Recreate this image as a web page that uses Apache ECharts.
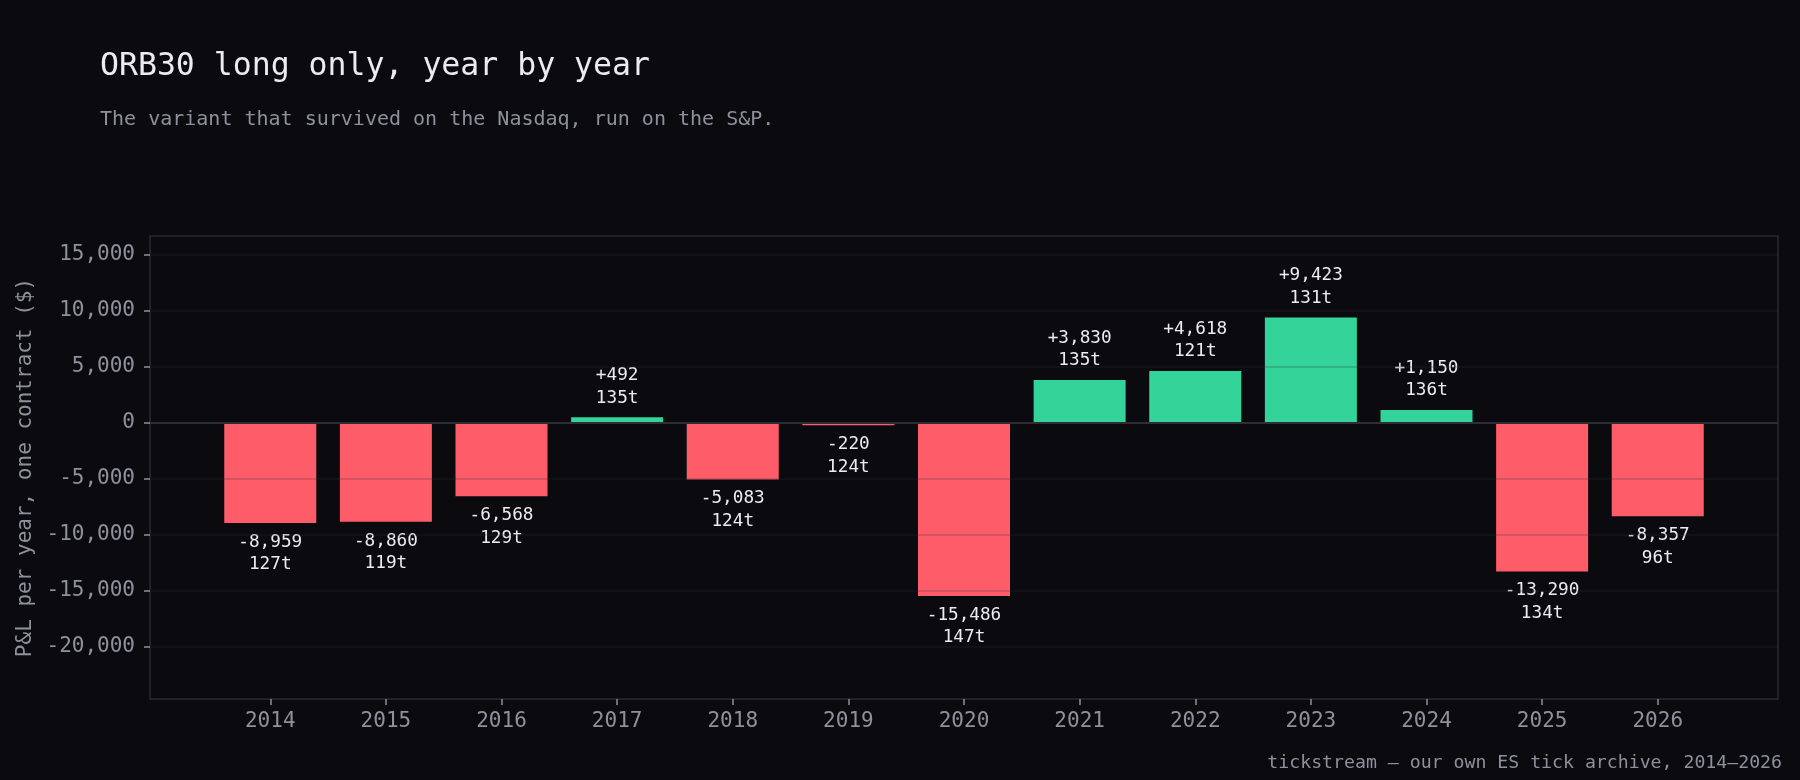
<!DOCTYPE html>
<html>
<head>
<meta charset="utf-8">
<script src="https://cdn.jsdelivr.net/npm/echarts@6/dist/echarts.min.js"></script>
<style>
  html, body { margin: 0; padding: 0; background: #0b0b0f; }
  #chart { width: 1800px; height: 780px; }
</style>
</head>
<body>
<div id="chart"></div>
<script>
// 数据
var years = ['2014','2015','2016','2017','2018','2019','2020','2021','2022','2023','2024','2025','2026'];
var pnl = [-8959, -8860, -6568, 492, -5083, -220, -15486, 3830, 4618, 9423, 1150, -13290, -8357];
var trades = [127, 119, 129, 135, 124, 124, 147, 135, 121, 131, 136, 134, 96];
var yTicks = [-20000, -15000, -10000, -5000, 0, 5000, 10000, 15000];

var mono = 'DejaVu Sans Mono';
var green = '#34d399';
var red = '#ff5c6a';
var grey = '#8e919c';

var myChart = echarts.init(document.getElementById('chart'));

var idx = years.map(function (y, i) { return i; });

var option = {
    backgroundColor: '#0b0b0f',
    animation: false,
    title: [
        {
            text: 'ORB30 long only, year by year',
            left: 100, top: 51, padding: 0,
            textStyle: { fontFamily: mono, fontSize: 31.5, fontWeight: 'normal', color: '#ececf0' }
        },
        {
            text: 'The variant that survived on the Nasdaq, run on the S&P.',
            left: 100, top: 110, padding: 0,
            textStyle: { fontFamily: mono, fontSize: 20, fontWeight: 'normal', color: grey }
        },
        {
            text: 'tickstream \u2014 our own ES tick archive, 2014\u20132026',
            right: 18, bottom: 8, padding: 0,
            textStyle: { fontFamily: mono, fontSize: 18.2, fontWeight: 'normal', color: grey }
        }
    ],
    grid: {
        left: 150, right: 22, top: 236, bottom: 81,
        show: true,
        borderColor: '#2a2a33',
        borderWidth: 1.5,
        backgroundColor: 'transparent'
    },
    //x轴
    xAxis: {
        type: 'value',
        min: -1.04,
        max: 13.04,
        splitLine: { show: false },
        axisLine: { show: false, onZero: false },
        axisTick: {
            show: true,
            customValues: idx,
            length: 6,
            lineStyle: { color: grey, width: 1.5 }
        },
        axisLabel: {
            customValues: idx,
            margin: 12,
            fontFamily: mono,
            fontSize: 21,
            color: grey,
            formatter: function (v) { return years[Math.round(v)]; }
        }
    },
    yAxis: {
        type: 'value',
        min: -24700,
        max: 16700,
        z: 5,
        name: 'P&L per year, one contract ($)',
        nameLocation: 'middle',
        nameGap: 114,
        nameTextStyle: { fontFamily: mono, fontSize: 21, color: grey },
        axisLine: { show: false, onZero: false },
        axisTick: {
            show: true,
            customValues: yTicks,
            length: 6,
            lineStyle: { color: grey, width: 1.5 }
        },
        axisLabel: {
            customValues: yTicks,
            margin: 15,
            fontFamily: mono,
            fontSize: 21,
            color: grey,
            formatter: function (v) { return v.toLocaleString('en-US'); }
        },
        splitLine: {
            show: true,
            lineStyle: { color: 'rgba(46,46,58,0.2)', width: 2 }
        }
    },
    series: [
        {
            type: 'bar',
            barWidth: 92,
            data: pnl.map(function (v, i) {
                return {
                    value: [i, v],
                    itemStyle: { color: v >= 0 ? green : red },
                    label: { position: v >= 0 ? 'top' : 'bottom' }
                };
            }),
            label: {
                show: true,
                distance: 8,
                fontFamily: mono,
                fontSize: 17.7,
                lineHeight: 22.5,
                color: '#ececf0',
                formatter: function (p) {
                    var v = pnl[p.dataIndex];
                    var s = (v >= 0 ? '+' : '-') + Math.abs(v).toLocaleString('en-US');
                    return s + '\n' + trades[p.dataIndex] + 't';
                }
            },
            markLine: {
                silent: true,
                symbol: 'none',
                label: { show: false },
                lineStyle: { color: '#2e2e38', width: 2, type: 'solid' },
                data: [{ yAxis: 0 }]
            }
        }
    ]
};

myChart.setOption(option);
</script>
</body>
</html>
